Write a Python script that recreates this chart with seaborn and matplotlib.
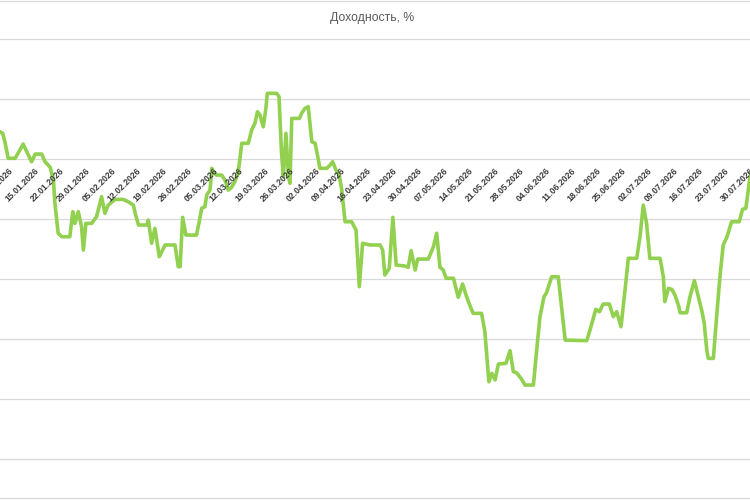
import pandas as pd
import numpy as np
import matplotlib
matplotlib.use("Agg")
import matplotlib.pyplot as plt
import seaborn as sns

# day of year 2026 (0 = 01.01) and yield, %
day = [5.0, 5.7, 6.3, 7.2, 9.1, 10.4, 11.3, 12.3, 13.6, 14.6, 16.4, 17.3, 18.7, 19.6,
       20.0, 20.9, 21.9, 24.1, 24.9, 25.5, 26.4, 27.3, 27.8, 28.5, 30.1, 31.4, 32.8,
       33.7, 34.6, 36.5, 38.7, 40.1, 41.5, 42.0, 42.9, 45.2, 45.6, 46.5, 47.4, 48.6,
       50.2, 52.9, 53.8, 54.3, 55.0, 55.9, 56.8, 58.8, 59.8, 60.2, 61.1, 61.6, 62.5,
       63.0, 63.4, 64.3, 65.7, 66.6, 67.5, 68.4, 69.3, 70.2, 70.7, 71.2, 73.0, 73.9,
       74.8, 75.5, 76.2, 77.1, 77.8, 78.2, 80.8, 81.4, 82.1, 82.6, 83.3, 84.0, 84.4,
       84.9, 87.0, 87.6, 88.5, 89.4, 90.4, 91.3, 92.2, 92.6, 94.5, 95.4, 96.1, 97.0,
       97.9, 98.6, 99.5, 101.3, 102.5, 103.4, 104.3, 106.3, 109.1, 109.8, 110.4, 111.6,
       112.6, 113.5, 115.9, 116.8, 117.6, 118.7, 119.4, 122.3, 123.7, 124.6, 125.5,
       126.4, 127.2, 129.2, 130.5, 131.7, 132.8, 134.0, 134.6, 136.9, 137.8, 138.9,
       139.7, 140.6, 141.5, 143.6, 144.7, 145.6, 146.5, 147.9, 148.8, 151.1, 152.0,
       152.9, 154.0, 154.7, 156.1, 157.9, 159.8, 165.7, 166.6, 168.2, 169.2, 170.2,
       171.9, 173.0, 173.9, 175.1, 176.2, 177.1, 179.4, 180.3, 181.2, 182.1, 183.0,
       185.8, 186.7, 187.1, 188.1, 189.0, 189.9, 190.8, 191.3, 193.1, 194.0, 195.2,
       196.3, 197.2, 197.9, 198.6, 199.0, 200.4, 201.3, 202.2, 203.1, 204.1, 205.4,
       207.5, 208.4, 209.3, 210.4, 211.5]
yield_pct = [1.82, 1.71, 1.15, 0.05, 0.05, 0.6, 1.0, 0.49, -0.18, 0.33, 0.33, -0.18, -0.55, -1.4,
             -2.95, -4.95, -5.18, -5.18, -3.51, -4.29, -3.51, -4.51, -6.07, -4.29, -4.29, -3.85, -2.51,
             -3.62, -3.07, -2.69, -2.69, -2.85, -3.07, -3.62, -4.4, -4.4, -4.07, -5.62, -4.62, -6.51,
             -5.73, -5.73, -7.18, -7.18, -3.89, -5.07, -5.07, -5.07, -3.85, -3.29, -3.18, -2.4, -2.07,
             -0.62, -0.85, -1.07, -1.07, -1.4, -2.07, -1.89, -1.51, -0.95, 0.05, 1.05, 1.05, 1.93,
             2.38, 3.15, 2.93, 2.15, 3.38, 4.38, 4.38, 4.15, 0.38, -1.18, 1.71, -1.18, -1.62,
             2.71, 2.71, 3.05, 3.38, 3.49, 1.15, 1.05, -0.07, -0.62, -0.62, -0.4, -0.18, -0.73,
             -1.07, -2.07, -4.18, -4.18, -4.73, -8.51, -5.62, -5.73, -5.73, -6.07, -7.73, -7.29,
             -3.89, -7.07, -7.13, -7.22, -6.11, -7.4, -6.67, -6.67, -5.85, -4.95, -7.22,
             -7.4, -7.95, -7.95, -9.22, -8.33, -9.18, -9.95, -10.29, -10.29, -11.51, -14.85,
             -14.29, -14.73, -13.67, -13.62, -12.78, -14.18, -14.25, -14.69, -15.07, -15.07, -12.73,
             -10.51, -9.18, -8.91, -7.85, -7.85, -12.07, -12.11, -11.4, -10.02, -10.18, -9.67,
             -9.67, -10.51, -10.18, -11.18, -8.73, -6.62, -6.62, -5.18, -3.07, -4.29, -6.62,
             -6.62, -7.85, -9.51, -8.62, -8.69, -9.07, -9.73, -10.25, -10.25, -9.18, -8.11,
             -9.18, -10.07, -10.95, -12.73, -13.29, -13.29, -10.51, -7.85, -5.73, -5.22, -4.18,
             -4.18, -3.35, -3.29, -1.29, 0.3]

tick_dates = pd.date_range("2026-01-08", "2026-07-30", freq="7D")
title = "Доходность, %"

start = pd.Timestamp("2026-01-01")
df = pd.DataFrame({"date": start + pd.to_timedelta(day, unit="D"), "value": yield_pct})

sns.set_theme(style="white")
plt.rcParams["font.family"] = ["Liberation Sans", "DejaVu Sans"]

fig = plt.figure(figsize=(7.5, 5), dpi=100)
ax = fig.add_axes([0, 0.004, 1, 0.995])

sns.lineplot(data=df, x="date", y="value", ax=ax, color="#92d050", linewidth=2.6,
             estimator=None, sort=False)

ax.set_xlim(start + pd.Timedelta(days=4.96), start + pd.Timedelta(days=210.44))
ax.set_ylim(-22.6, 10.57)
ax.set_yticks(np.arange(-20, 9, 4))
ax.yaxis.grid(True, color="#d9d9d9", linewidth=0.9)
ax.xaxis.grid(False)
ax.set_xticks([])
ax.set_yticklabels([])
ax.tick_params(length=0)
ax.set_xlabel("")
ax.set_ylabel("")
for s in ["left", "right"]:
    ax.spines[s].set_visible(False)
for s in ["top", "bottom"]:
    ax.spines[s].set_color("#d9d9d9")
    ax.spines[s].set_linewidth(0.9)

for d in tick_dates:
    ax.annotate(d.strftime("%d.%m.%Y"), xy=(d, 0), xytext=(1, -5),
                textcoords="offset points", rotation=45, ha="right", va="top",
                rotation_mode="anchor", fontsize=6.2, fontweight="bold",
                color="#3a3a3a", annotation_clip=False)

fig.text(0.496, 0.963, title, ha="center", va="center", fontsize=8.8, color="#595959")

fig.savefig("out.png", dpi=100)
